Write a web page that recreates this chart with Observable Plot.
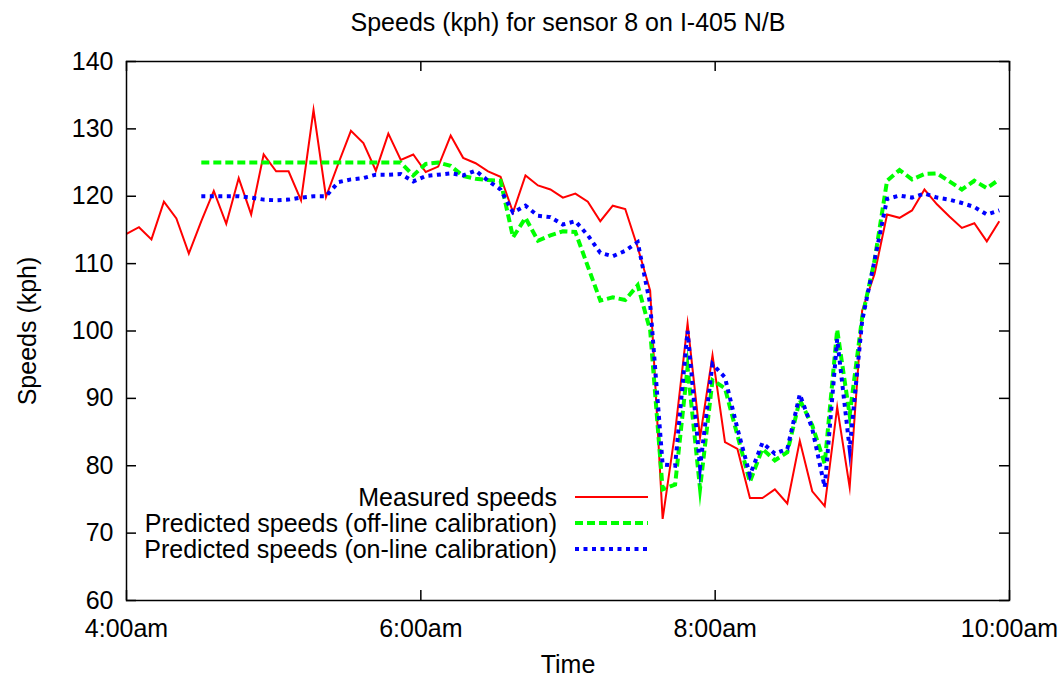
<!DOCTYPE html>
<html>
<head>
<meta charset="utf-8">
<script src="https://cdn.jsdelivr.net/npm/d3@7"></script>
<script src="https://cdn.jsdelivr.net/npm/@observablehq/plot@0.6"></script>
<style>
  html, body { margin: 0; padding: 0; background: #fff; }
  #chart { width: 1064px; height: 679px; }
</style>
</head>
<body>
<div id="chart"></div>
<script>
// ---- data ----
const chartTitle = "Speeds (kph) for sensor 8 on I-405 N/B";
const xTitle = "Time";
const yTitle = "Speeds (kph)";
const seriesNames = ["Measured speeds", "Predicted speeds (off-line calibration)", "Predicted speeds (on-line calibration)"];

const times = [
  "4:00:00","4:05:05","4:10:10","4:15:15","4:20:20","4:25:25","4:30:30","4:35:35","4:40:40","4:45:45",
  "4:50:50","4:55:55","5:01:00","5:06:05","5:11:10","5:16:15","5:21:20","5:26:25","5:31:30","5:36:35",
  "5:41:40","5:46:45","5:51:50","5:56:55","6:02:00","6:07:05","6:12:10","6:17:15","6:22:20","6:27:25",
  "6:32:30","6:37:35","6:42:40","6:47:45","6:52:50","6:57:55","7:03:00","7:08:05","7:13:10","7:18:15",
  "7:23:20","7:28:25","7:33:30","7:38:35","7:43:40","7:48:45","7:53:50","7:58:55","8:04:00","8:09:05",
  "8:14:10","8:19:15","8:24:20","8:29:25","8:34:30","8:39:35","8:44:40","8:49:45","8:54:50","8:59:55",
  "9:05:00","9:10:05","9:15:10","9:20:15","9:25:20","9:30:25","9:35:30","9:40:35","9:45:40","9:50:45",
  "9:55:50"
];

const measured = [
  114.4,115.4,113.6,119.2,116.7,111.5,116.3,120.8,115.9,122.7,
  117.3,126.2,123.7,123.7,119.4,132.8,119.9,124.9,129.7,127.9,
  123.8,129.3,125.4,126.2,123.6,124.4,129.0,125.7,124.9,123.7,
  122.9,117.6,123.1,121.6,121.0,119.8,120.4,119.2,116.3,118.6,
  118.1,112.4,106.0,72.1,85.0,101.1,84.2,96.4,83.5,82.5,
  75.2,75.2,76.5,74.4,83.7,76.2,74.0,88.7,76.8,103.0,
  108.5,117.3,116.8,117.9,121.0,118.8,117.0,115.3,116.0,113.3,
  116.3
];

const offline = [
  null,null,null,null,null,null,125.0,125.0,125.0,125.0,
  125.0,125.0,125.0,125.0,125.0,125.0,125.0,125.0,125.0,125.0,
  125.0,125.0,125.0,123.1,124.8,125.0,124.5,123.0,122.6,122.4,
  122.3,113.9,116.8,113.4,114.2,114.8,114.7,109.6,104.5,105.0,
  104.6,106.8,100.1,76.5,77.2,94.6,76.6,92.7,91.5,84.5,
  77.6,82.5,80.8,82.0,89.8,86.0,80.3,100.2,87.5,102.0,
  110.5,122.3,123.9,122.5,123.3,123.4,122.2,121.0,122.3,121.2,
  122.5
];

const online = [
  null,null,null,null,null,null,120.0,120.0,120.0,120.0,
  119.8,119.5,119.4,119.5,119.8,120.0,120.0,122.1,122.5,122.7,
  123.2,123.2,123.3,122.2,123.0,123.2,123.4,123.1,123.8,122.3,
  121.0,117.6,118.6,117.1,116.9,115.8,116.3,114.2,111.6,111.1,
  111.9,113.2,104.0,80.2,80.0,100.0,79.8,95.1,93.1,85.5,
  78.6,83.4,81.8,82.5,90.6,85.5,76.8,98.8,82.5,101.5,
  110.5,119.6,120.1,119.8,120.4,119.8,119.5,119.0,118.4,117.3,
  117.9
];

const xTickTimes = ["4:00:00","6:00:00","8:00:00","10:00:00"];
const xTickLabels = ["4:00am","6:00am","8:00am","10:00am"];
const yTicks = [60,70,80,90,100,110,120,130,140];

// ---- build ----
const parseT = s => { const [h,m,sec] = s.split(":").map(Number); return new Date(Date.UTC(2000,0,1,h,m,sec||0)); };
const rows = times.map((t,i) => ({t: parseT(t), measured: measured[i], offline: offline[i], online: online[i]}));
const xTicks = xTickTimes.map(parseT);
const labelOf = new Map(xTicks.map((d,i) => [+d, xTickLabels[i]]));

const W = 1064, H = 679, mL = 126, mR = 55, mT = 61, mB = 79;
const innerW = W - mL - mR, innerH = H - mT - mB;
const tickLen = 10;
const font = "'Liberation Sans', Arial, Helvetica, sans-serif";
const FS = 25;

const styles = [
  {stroke: "#ff0000", strokeWidth: 2, dash: null},
  {stroke: "#00ff00", strokeWidth: 4, dash: "8,4"},
  {stroke: "#0000ff", strokeWidth: 4, dash: "4,4.5"}
];
const keys = ["measured","offline","online"];

const svg = Plot.plot({
  width: W, height: H,
  marginLeft: mL, marginRight: mR, marginTop: mT, marginBottom: mB,
  style: {fontFamily: font, fontSize: FS + "px", color: "black", background: "white", overflow: "visible"},
  x: {type: "utc", domain: [xTicks[0], xTicks[xTicks.length-1]]},
  y: {domain: [60, 140]},
  marks: [
    ...keys.map((k,i) => Plot.line(rows, {
      filter: d => d[k] != null, x: "t", y: k,
      stroke: styles[i].stroke, strokeWidth: styles[i].strokeWidth,
      strokeDasharray: styles[i].dash, strokeLinejoin: "miter", strokeLinecap: "butt", strokeMiterlimit: 10
    })),
    Plot.frame({stroke: "black", strokeWidth: 1.5}),
    Plot.tickY(yTicks, {y: d => d, insetRight: innerW - tickLen, stroke: "black", strokeWidth: 1.5}),
    Plot.tickY(yTicks, {y: d => d, insetLeft: innerW - tickLen, stroke: "black", strokeWidth: 1.5}),
    Plot.tickX(xTicks, {x: d => d, insetTop: innerH - tickLen, stroke: "black", strokeWidth: 1.5}),
    Plot.tickX(xTicks, {x: d => d, insetBottom: innerH - tickLen, stroke: "black", strokeWidth: 1.5}),
    Plot.axisY(yTicks, {tickSize: 0, tickPadding: 13, fontSize: FS, label: null}),
    Plot.axisX(xTicks, {tickSize: 0, tickPadding: 19, fontSize: FS, label: null, tickFormat: d => labelOf.get(+d)}),
    Plot.text([chartTitle], {frameAnchor: "top", lineAnchor: "middle", textAnchor: "middle", dy: -39, fontSize: FS}),
    Plot.text([xTitle], {frameAnchor: "bottom", lineAnchor: "middle", textAnchor: "middle", dy: 64, fontSize: FS}),
    Plot.text([yTitle], {frameAnchor: "left", lineAnchor: "middle", textAnchor: "middle", dx: -99, rotate: -90, fontSize: FS})
  ]
});

// legend (inside plot area, lower middle)
const lg = d3.select(svg).append("g").attr("font-family", font).attr("font-size", FS);
const legTextX = 557, legLineX1 = 575, legLineX2 = 648, legY0 = 497, legStep = 26;
seriesNames.forEach((name, i) => {
  const y = legY0 + i * legStep;
  lg.append("text").attr("x", legTextX).attr("y", y).attr("dy", "0.35em")
    .attr("text-anchor", "end").attr("fill", "black").text(name);
  lg.append("line").attr("x1", legLineX1).attr("x2", legLineX2).attr("y1", y).attr("y2", y)
    .attr("stroke", styles[i].stroke).attr("stroke-width", styles[i].strokeWidth)
    .attr("stroke-dasharray", styles[i].dash);
});

document.getElementById("chart").appendChild(svg);
</script>
</body>
</html>
